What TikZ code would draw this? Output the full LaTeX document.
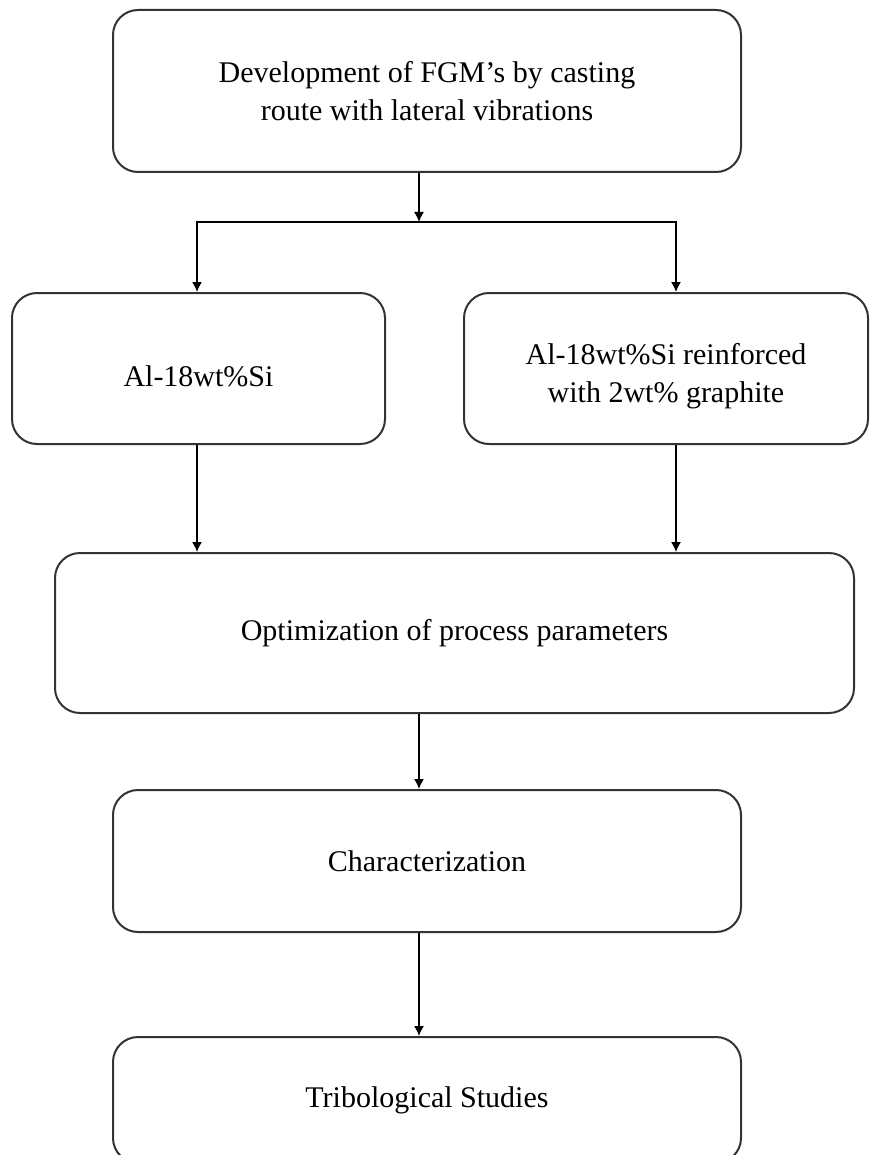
\documentclass[tikz,border=0pt]{standalone}
\usepackage{fontspec}
\setmainfont{Liberation Serif}
\usepackage{tikz}
\usetikzlibrary{arrows.meta}
\newcommand{\lowline}[1]{\raisebox{-4pt}[\height][\depth]{#1}}

\begin{document}
\begin{tikzpicture}[x=0.5pt,y=-0.5pt,
  box/.style={draw=black!80,line width=1pt,rounded corners=12.5pt,align=center,
              font=\fontsize{15}{19}\selectfont,inner sep=0pt},
  edge/.style={-{Latex[length=5pt,width=5pt]},line width=0.7pt}]
\useasboundingbox (0,0) rectangle (870,1155);
\node[box,minimum width=314pt,minimum height=81pt] (dev) at (427,91)
  {Development of FGM’s by casting\\route with lateral vibrations};
\node[box,minimum width=186.5pt,minimum height=75.5pt] (alsi) at (198.5,368.5)
  {\lowline{Al-18wt\%Si}};
\node[box,minimum width=202pt,minimum height=75.5pt] (graph) at (666,368.5)
  {\lowline{Al-18wt\%Si reinforced}\\\lowline{with 2wt\% graphite}};
\node[box,minimum width=399.5pt,minimum height=80pt] (opt) at (454.5,633)
  {Optimization of process parameters};
\node[box,minimum width=314pt,minimum height=71pt] (char) at (427,861)
  {Characterization};
\node[box,minimum width=314pt,minimum height=63pt] (trib) at (427,1100)
  {Tribological Studies};
\coordinate (split) at (419,222);
\draw[edge] (dev.south -| split) -- (split);
\draw[edge] (split) -| ([xshift=-0.75pt]alsi.north);
\draw[edge] (split) -| ([xshift=5pt]graph.north);
\draw[edge] ([xshift=-0.75pt]alsi.south) -- ([xshift=-0.75pt]alsi.south |- opt.north);
\draw[edge] ([xshift=5pt]graph.south) -- ([xshift=5pt]graph.south |- opt.north);
\draw[edge] (opt.south -| split) -- (char.north -| split);
\draw[edge] (char.south -| split) -- (trib.north -| split);
\end{tikzpicture}
\end{document}
